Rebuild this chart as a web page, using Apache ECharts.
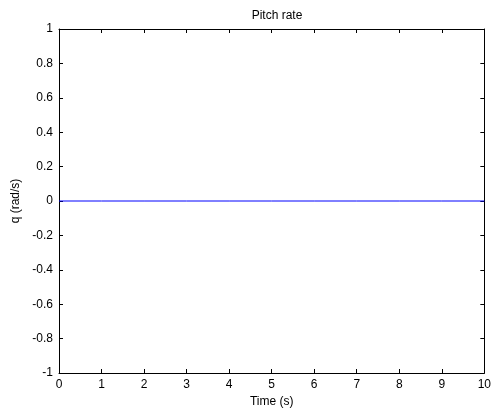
<!DOCTYPE html>
<html>
<head>
<meta charset="utf-8">
<script src="https://cdn.jsdelivr.net/npm/echarts@6/dist/echarts.min.js"></script>
<style>
  html, body { margin: 0; padding: 0; background: #fff; }
  #chart { width: 494px; height: 414px; }
</style>
</head>
<body>
<div id="chart"></div>
<script>
// time samples (s) and pitch rate (rad/s)
const timeVals = [0, 1, 2, 3, 4, 5, 6, 7, 8, 9, 10]
const qVals = [0, 0, 0, 0, 0, 0, 0, 0, 0, 0, 0]
const titleText = 'Pitch rate'
const xName = 'Time (s)'
const yName = 'q (rad/s)'

const chart = echarts.init(document.getElementById('chart'))
const font = 'Liberation Sans, Arial, sans-serif'
const axisLine = { show: true, onZero: false, lineStyle: { color: '#000', width: 1 } }
const tick = { show: true, inside: true, length: 4, lineStyle: { color: '#000' } }

const option = {
  animation: false,
  title: {
    text: titleText,
    left: 272, top: 5, textAlign: 'center',
    textStyle: { fontFamily: font, fontSize: 12, fontWeight: 'normal', color: '#000' }
  },
  grid: { left: 59, right: 8, top: 29, bottom: 41 },
  xAxis: [
    {
      type: 'value', position: 'bottom', min: 0, max: 10, interval: 1,
      name: xName, nameLocation: 'middle', nameGap: 22,
      nameTextStyle: { fontFamily: font, fontSize: 12, color: '#000' },
      axisLine, axisTick: tick,
      axisLabel: { fontFamily: font, fontSize: 12, color: '#000', margin: 6 },
      splitLine: { show: false }
    },
    {
      type: 'value', position: 'top', min: 0, max: 10, interval: 1,
      axisLine, axisTick: tick, axisLabel: { show: false }, splitLine: { show: false }
    }
  ],
  yAxis: [
    {
      type: 'value', position: 'left', min: -1, max: 1, interval: 0.2,
      name: yName, nameLocation: 'middle', nameGap: 35, nameRotate: 90,
      nameTextStyle: { fontFamily: font, fontSize: 12, color: '#000' },
      axisLine, axisTick: tick,
      axisLabel: {
        fontFamily: font, fontSize: 12, color: '#000', margin: 6,
        formatter: v => String(Math.round(v * 10) / 10)
      },
      splitLine: { show: false }
    },
    {
      type: 'value', position: 'right', min: -1, max: 1, interval: 0.2,
      axisLine, axisTick: tick, axisLabel: { show: false }, splitLine: { show: false }
    }
  ],
  series: [
    {
      type: 'line',
      data: timeVals.map((t, i) => [t, qVals[i]]),
      showSymbol: false,
      lineStyle: { color: '#0000ff', width: 1 }
    }
  ]
}
chart.setOption(option)
</script>
</body>
</html>
